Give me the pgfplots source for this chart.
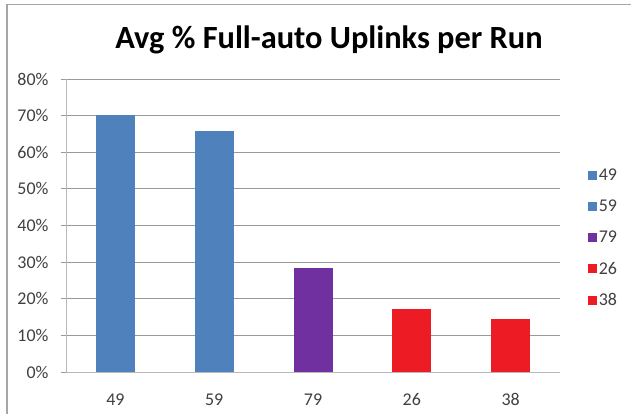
\documentclass[border=0pt]{standalone}
\usepackage{pgfplots}
\pgfplotsset{compat=1.18}
\usepackage{fontspec}
\setmainfont{Carlito}
\definecolor{cblue}{HTML}{4F81BD}
\definecolor{cpurple}{HTML}{7030A0}
\definecolor{cred}{HTML}{ED1C24}
\definecolor{gridgray}{HTML}{999999}
\definecolor{txtgray}{HTML}{404040}
\begin{document}
\begin{tikzpicture}[x=1bp,y=1bp]
\useasboundingbox[fill=white] (0,0) rectangle (631,414);
\draw[gray!70, line width=1.5bp] (7,0) -- (7,409.5) -- (631,409.5);
\node[font=\bfseries\fontsize{32.5}{36}\selectfont, text=black, anchor=base, inner sep=0pt] at (329,366) {Avg \% Full-auto Uplinks per Run};
\begin{axis}[
  at={(66bp,42bp)}, anchor=south west,
  scale only axis, width=494bp, height=293bp,
  xmin=0, xmax=5, ymin=0, ymax=80,
  axis x line*=bottom, axis y line*=left,
  axis line style={gridgray!70, line width=0.8bp},
  ytick={0,10,...,80},
  yticklabel={\pgfmathprintnumber{\tick}\%},
  /pgf/number format/assume math mode=true,
  ymajorgrids, grid style={gridgray, line width=0.8bp},
  ytick style={gridgray, line width=0.8bp},
  tick align=outside, major tick length=5bp,
  xtick={0.5,1.5,2.5,3.5,4.5},
  xticklabels={49,59,79,26,38},
  xtick style={draw=none},
  minor xtick={0,1,2,3,4,5},
  minor tick length=5bp,
  minor x tick style={gridgray, line width=0.8bp},
  tick label style={font=\fontsize{18}{21}\selectfont, text=txtgray},
  yticklabel style={anchor=east, xshift=-9bp},
  xticklabel style={yshift=-13bp},
  ybar, bar width=39bp, bar shift=0pt,
  legend style={at={(1.05,0.457)}, anchor=west, draw=none, fill=none,
    font=\fontsize{18}{21}\selectfont, text=txtgray,
    row sep=14bp, legend cell align=left},
  legend image code/.code={\fill[#1] (0bp,-4.5bp) rectangle (9bp,4.5bp);},
]
\addplot[fill=cblue, draw=none] coordinates {(0.5,70.3)};
\addplot[fill=cblue, draw=none] coordinates {(1.5,65.7)};
\addplot[fill=cpurple, draw=none] coordinates {(2.5,28.3)};
\addplot[fill=cred, draw=none] coordinates {(3.5,17.1)};
\addplot[fill=cred, draw=none] coordinates {(4.5,14.4)};
\legend{49,59,79,26,38}
\end{axis}
\end{tikzpicture}
\end{document}
